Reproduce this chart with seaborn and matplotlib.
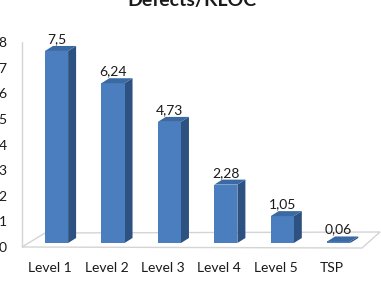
import matplotlib
matplotlib.use("Agg")
import matplotlib.pyplot as plt
import matplotlib.transforms as mtransforms
from matplotlib.patches import Polygon
import seaborn as sns
import pandas as pd

categories = ["Level 1", "Level 2", "Level 3", "Level 4", "Level 5", "TSP"]
values = [7.5, 6.24, 4.73, 2.28, 1.05, 0.06]
title = "Defects/KLOC"
yticks = [0, 1, 2, 3, 4, 5, 6, 7, 8]

sns.set_theme(style="white")
plt.rcParams['font.family'] = ['Lato', 'DejaVu Sans']

W, H = 381, 286
fig = plt.figure(figsize=(W / 100, H / 100), dpi=100)
ax_left, ax_right = 22, 381
ax_top, ax_bot = 22.8, 249.4
ax = fig.add_axes([ax_left / W, 1 - ax_bot / H, (ax_right - ax_left) / W, (ax_bot - ax_top) / H])

df = pd.DataFrame({"cat": categories, "val": values})
front = "#4a7ebf"
side = "#2d5180"
top = "#3b6aa3"
sns.barplot(data=df, x="cat", y="val", color=front, saturation=1, width=0.41,
            ax=ax, zorder=3, edgecolor="none")
xlim = (-0.612, 5.75)
ylim = (-0.25, 8.6)
ax.set_xlim(*xlim)
ax.set_ylim(*ylim)

pxx = (ax_right - ax_left) / (xlim[1] - xlim[0])
pxy = (ax_bot - ax_top) / (ylim[1] - ylim[0])
dx = 8 / pxx
dy = 5 / pxy

# floor (px offsets converted to data)
def px2d(px, py):
    return (xlim[0] + (px - ax_left) / pxx, ylim[0] + (ax_bot - py) / pxy)

floor = [px2d(22, 247), px2d(362, 248), px2d(380, 232), px2d(45, 233)]
ax.add_patch(Polygon(floor, closed=True, facecolor="white", edgecolor="#d4d4d4",
                     lw=1, zorder=1, clip_on=False))
x0l, y0l = px2d(22, 247)
x1l, y1l = px2d(22, 42)
ax.plot([x0l, x1l], [y0l, y1l], color="#d4d4d4", lw=1, zorder=1, clip_on=False)

for p, v in zip(ax.patches[:len(values)], values):
    x0 = p.get_x()
    w = p.get_width()
    h = p.get_height()
    ax.add_patch(Polygon([(x0 + w, 0), (x0 + w + dx, dy), (x0 + w + dx, h + dy), (x0 + w, h)],
                         closed=True, facecolor=side, edgecolor="none", zorder=2.5))
    ax.add_patch(Polygon([(x0, h), (x0 + dx, h + dy), (x0 + w + dx, h + dy), (x0 + w, h)],
                         closed=True, facecolor=top, edgecolor="none", zorder=3.5))
    ax.annotate(f"{v:g}".replace(".", ","), xy=(x0 + w / 2, h), xytext=(0, 8.6),
                textcoords="offset points", ha="center", va="center",
                fontsize=10, color="#1a1a1a")

for s in ax.spines.values():
    s.set_visible(False)
ax.set_xlabel("")
ax.set_ylabel("")
ax.set_yticks(yticks)
ax.set_yticklabels([str(t) for t in yticks])
ax.tick_params(axis="y", length=0, pad=11, labelsize=10, labelcolor="#1a1a1a")
ax.tick_params(axis="x", length=0, pad=9, labelsize=10, labelcolor="#1a1a1a")
for lab in ax.get_yticklabels():
    lab.set_transform(lab.get_transform() + mtransforms.ScaledTranslation(0, -4 / 100, fig.dpi_scale_trans))
for lab in ax.get_xticklabels():
    lab.set_transform(lab.get_transform() + mtransforms.ScaledTranslation(-6.5 / 100, 0, fig.dpi_scale_trans))
ax.grid(False)

fig.text(192 / W, 1 - 6 / H, title, ha="center", va="baseline", fontsize=14,
         fontweight="bold", color="#1a1a1a")

fig.savefig("out.png", dpi=100)
